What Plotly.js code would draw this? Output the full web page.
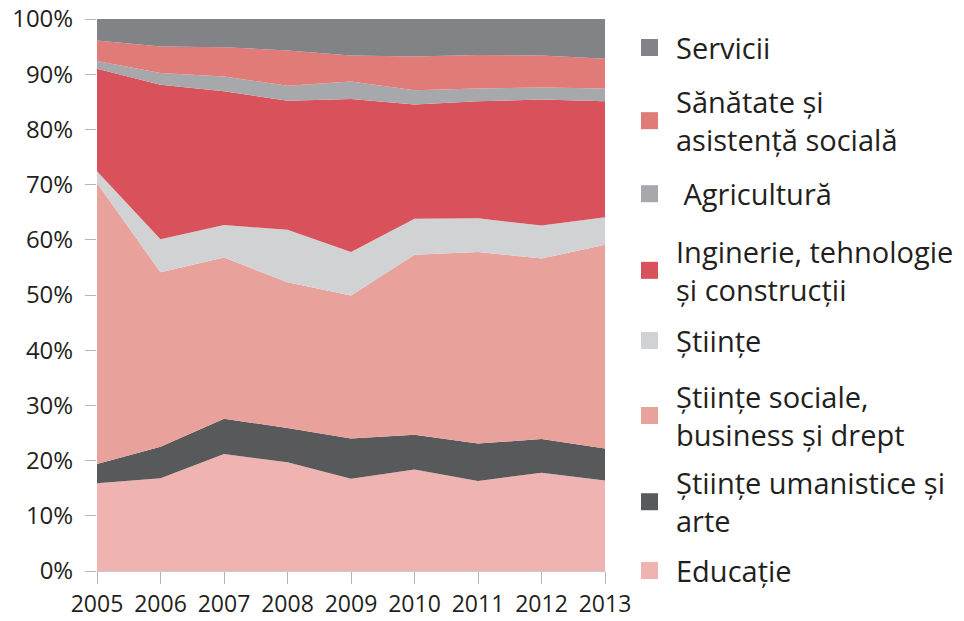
<!DOCTYPE html>
<html>
<head>
<meta charset="utf-8">
<script src="https://cdn.plot.ly/plotly-3.0.1.min.js"></script>
<style>html,body{margin:0;padding:0;background:#fff;}#chart{width:964px;height:621px;}</style>
</head>
<body>
<div id="chart"></div>
<script>
const years = [2005, 2006, 2007, 2008, 2009, 2010, 2011, 2012, 2013];

// Series, bottom of stack first (percent of graduates)
const educatie    = [15.9, 16.8, 21.2, 19.7, 16.7, 18.4, 16.3, 17.8, 16.4];
const umanistice  = [3.5, 5.7, 6.4, 6.2, 7.3, 6.3, 6.8, 6.1, 5.8];
const sociale     = [50.9, 31.6, 29.2, 26.4, 25.9, 32.6, 34.7, 32.7, 36.9];
const stiinte     = [2.1, 6.0, 5.9, 9.5, 7.9, 6.5, 6.1, 6.0, 5.0];
const inginerie   = [18.6, 28.0, 24.2, 23.4, 27.7, 20.7, 21.2, 22.8, 21.0];
const agricultura = [1.4, 2.1, 2.7, 2.7, 3.2, 2.6, 2.3, 2.2, 2.3];
const sanatate    = [3.7, 4.8, 5.3, 6.4, 4.7, 6.1, 6.1, 5.8, 5.4];
const servicii    = [3.9, 5.0, 5.1, 5.7, 6.6, 6.8, 6.5, 6.6, 7.2];

const seriesNames = ["Educație", "Științe umanistice și arte", "Științe sociale, business și drept",
  "Științe", "Inginerie, tehnologie și construcții", " Agricultură", "Sănătate și asistență socială", "Servicii"];
const legendLabels = ["Educație", "Științe umanistice și<br>arte", "Științe sociale,<br>business și drept",
  "Științe", "Inginerie, tehnologie<br>și construcții", " Agricultură", "Sănătate și<br>asistență socială", "Servicii"];
const seriesValues = [educatie, umanistice, sociale, stiinte, inginerie, agricultura, sanatate, servicii];
const colors = ["#efb4b1", "#58595b", "#e9a19b", "#d1d2d4", "#d9515a", "#a7a8ac", "#e07b77", "#828387"];

const yTickVals = [0, 10, 20, 30, 40, 50, 60, 70, 80, 90, 100];

const FONT = "Open Sans, Lato, sans-serif";
const TEXT = "#231f20";

const traces = seriesValues.map((v, i) => ({
  type: "scatter",
  x: years,
  y: v,
  name: seriesNames[i],
  stackgroup: "one",
  mode: "none",
  fillcolor: colors[i],
  line: {width: 0},
  showlegend: false,
  hoverinfo: "x+y+name"
}));

// Legend (custom, placed to the right of the plot)
const legendY = [0.0009, 0.1255, 0.2817, 0.4176, 0.5447, 0.6835, 0.8158, 0.9484];
const shapes = [];
const annotations = [];
legendLabels.forEach((lab, i) => {
  shapes.push({
    type: "rect", xref: "paper", yref: "paper",
    xsizemode: "pixel", ysizemode: "pixel",
    xanchor: 1.0876, yanchor: legendY[i],
    x0: -8.5, x1: 8.5, y0: -8.5, y1: 8.5,
    fillcolor: colors[i], line: {width: 0}
  });
  annotations.push({
    xref: "paper", yref: "paper", x: 1.135, y: legendY[i],
    xanchor: "left", yanchor: "middle", align: "left",
    text: lab, showarrow: false,
    font: {family: FONT, size: 29, color: TEXT}
  });
});

const layout = {
  width: 964, height: 621,
  margin: {l: 97, r: 359, t: 19, b: 50},
  paper_bgcolor: "#ffffff",
  plot_bgcolor: "#ffffff",
  showlegend: false,
  xaxis: {
    range: [2005, 2013],
    tickvals: years,
    ticktext: years.map(String),
    ticks: "outside", ticklen: 12, tickcolor: "#b5b5b5", tickwidth: 1,
    showgrid: false, zeroline: false,
    showline: true, linecolor: "#c8c8c8", linewidth: 1,
    tickfont: {family: FONT, size: 23, color: TEXT},
    fixedrange: true
  },
  yaxis: {
    range: [0, 100],
    tickvals: yTickVals,
    ticktext: yTickVals.map(v => v + "%"),
    ticks: "outside", ticklen: 11, tickcolor: "#b5b5b5", tickwidth: 1,
    showgrid: false, zeroline: false, showline: false,
    tickfont: {family: FONT, size: 24, color: TEXT},
    ticklabelstandoff: 7,
    fixedrange: true
  },
  shapes: shapes,
  annotations: annotations
};

Plotly.newPlot("chart", traces, layout, {displayModeBar: false, staticPlot: true});
</script>
</body>
</html>
